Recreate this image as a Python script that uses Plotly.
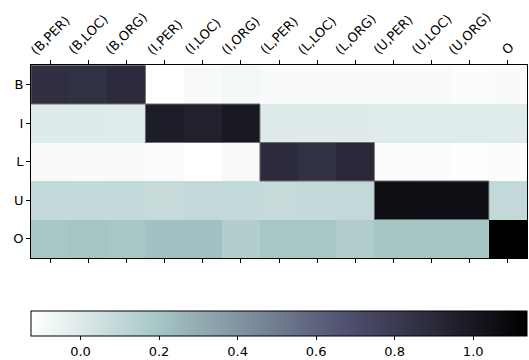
import plotly.graph_objects as go

cols = ["(B,PER)", "(B,LOC)", "(B,ORG)", "(I,PER)", "(I,LOC)", "(I,ORG)",
        "(L,PER)", "(L,LOC)", "(L,ORG)", "(U,PER)", "(U,LOC)", "(U,ORG)", "O"]
rows = ["B", "I", "L", "U", "O"]

row_B = [0.87, 0.86, 0.89, -0.126, -0.10, -0.08, -0.105, -0.105, -0.105, -0.105, -0.105, -0.11, -0.105]
row_I = [-0.01, -0.01, -0.015, 0.97, 0.95, 1.0, -0.01, -0.01, -0.01, -0.015, -0.015, -0.015, -0.015]
row_L = [-0.105, -0.105, -0.105, -0.11, -0.126, -0.10, 0.89, 0.86, 0.91, -0.11, -0.11, -0.12, -0.11]
row_U = [0.09, 0.085, 0.09, 0.075, 0.09, 0.085, 0.08, 0.085, 0.09, 1.06, 1.05, 1.05, 0.09]
row_O = [0.19, 0.2, 0.19, 0.215, 0.22, 0.155, 0.19, 0.19, 0.16, 0.195, 0.195, 0.195, 1.137]

z = [row_B, row_I, row_L, row_U, row_O]

bone_r = [
    [0.0, "rgb(255,255,255)"],
    [0.253968, "rgb(166,198,198)"],
    [0.634921, "rgb(81,81,113)"],
    [1.0, "rgb(0,0,0)"],
]

W, H = 529, 360
L, R, T, B = 31, 2, 65, 102
plot_h = H - T - B

fig = go.Figure()
fig.add_trace(go.Heatmap(
    z=z, x=cols, y=rows, colorscale=bone_r, zmin=-0.126, zmax=1.137,
    xgap=0, ygap=0,
    colorbar=dict(
        orientation="h", x=0, xanchor="left", y=(258 - 311) / plot_h, yanchor="top",
        len=W - L - R, lenmode="pixels", thickness=25, thicknessmode="pixels",
        xpad=0, ypad=0, outlinecolor="black", outlinewidth=1,
        ticks="outside", ticklen=4, tickcolor="black",
        tickvals=[0.0, 0.2, 0.4, 0.6, 0.8, 1.0], ticktext=["0.0", "0.2", "0.4", "0.6", "0.8", "1.0"],
        tickfont=dict(family="DejaVu Sans", size=13, color="black"),
    ),
))

# outline boxes around diagonal blocks
blocks = [(0, 0, 2), (1, 3, 5), (2, 6, 8), (3, 9, 11)]
for r, c0, c1 in blocks:
    fig.add_shape(type="rect", xref="x", yref="y",
                  x0=c0 - 0.5, x1=c1 + 0.5, y0=r - 0.5, y1=r + 0.5,
                  line=dict(color="rgb(110,110,115)", width=1))

# rotated column labels, centred over their ticks (matplotlib style)
for c in cols:
    fig.add_annotation(x=c, xref="x", y=1 + 6 / plot_h, yref="paper",
                       text=c, textangle=-45, showarrow=False,
                       xanchor="center", yanchor="bottom", borderpad=0,
                       font=dict(family="DejaVu Sans", size=13, color="black"))

fig.update_layout(
    width=W, height=H, margin=dict(l=L, r=R, t=T, b=B, autoexpand=False),
    paper_bgcolor="white", plot_bgcolor="white",
    font=dict(family="DejaVu Sans", size=13, color="black"),
    xaxis=dict(side="top", showticklabels=False, ticks="outside", ticklen=4, tickcolor="black",
               showline=True, linecolor="black", linewidth=1, mirror="ticks",
               showgrid=False, zeroline=False, range=[-0.5, 12.5]),
    yaxis=dict(autorange="reversed", ticks="outside", ticklen=4, tickcolor="black",
               showline=True, linecolor="black", linewidth=1, mirror=True,
               showgrid=False, zeroline=False,
               tickfont=dict(family="DejaVu Sans", size=13)),
)

fig.write_html("out.html", config={"displayModeBar": False},
               post_script="document.body.style.margin='0';document.body.style.overflow='hidden';")
